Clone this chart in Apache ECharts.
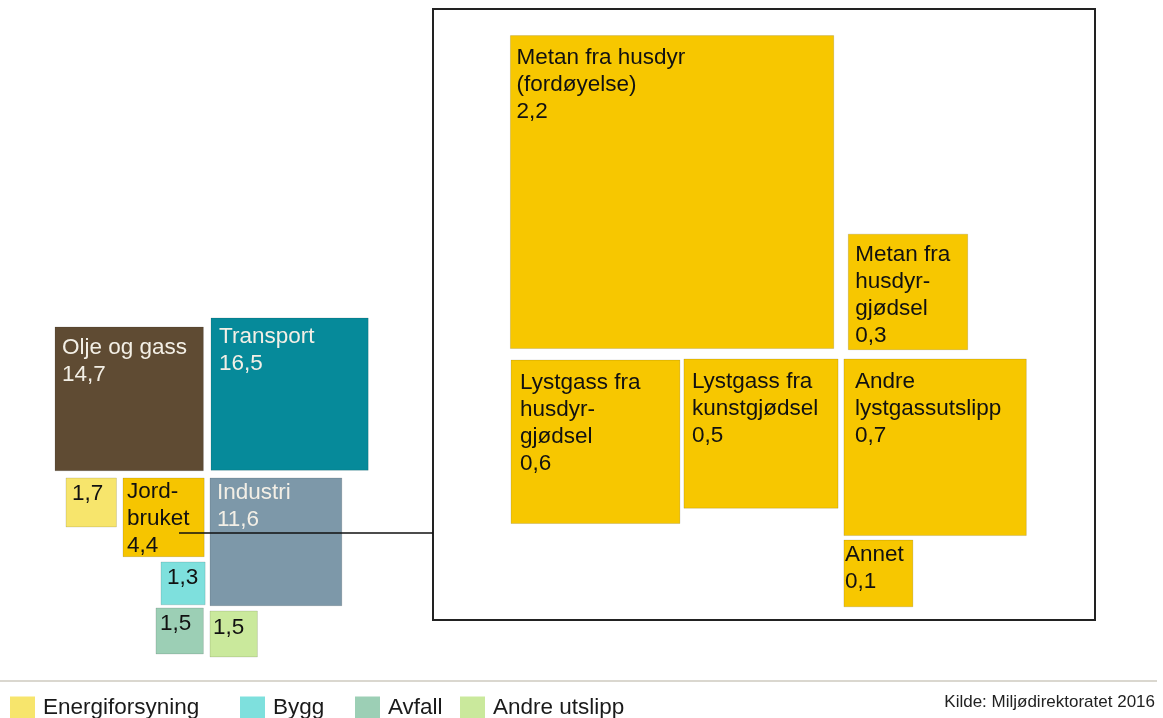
<!DOCTYPE html>
<html>
<head>
<meta charset="utf-8">
<title>Utslipp</title>
<script src="https://cdn.jsdelivr.net/npm/echarts@6.0.0/dist/echarts.min.js"></script>
<style>
  html, body { margin: 0; padding: 0; background: #fff; }
  #chart { width: 1163px; height: 718px; }
</style>
</head>
<body>
<div id="chart"></div>
<script>
// utslipp per sektor, mill. tonn CO2-ekvivalenter
const sectorNames = ['Olje og gass', 'Transport', 'Energiforsyning', 'Jordbruket', 'Industri', 'Bygg', 'Avfall', 'Andre utslipp'];
const sectorLabels = ['Olje og gass', 'Transport', '', 'Jord-\nbruket', 'Industri', '', '', ''];
const sectorValues = [14.7, 16.5, 1.7, 4.4, 11.6, 1.3, 1.5, 1.5];
const legendNames = ['Energiforsyning', 'Bygg', 'Avfall', 'Andre utslipp'];

// jordbruket fordelt på kilder
const farmLabels = ['Metan fra husdyr\n(fordøyelse)', 'Metan fra\nhusdyr-\ngjødsel', 'Lystgass fra\nhusdyr-\ngjødsel', 'Lystgass fra\nkunstgjødsel', 'Andre\nlystgassutslipp', 'Annet'];
const farmValues = [2.2, 0.3, 0.6, 0.5, 0.7, 0.1];

// plassering: øvre venstre hjørne, i kvadratrot-enheter
const sectorPos = [[0.388, 0.72], [4.419, 0.48], [0.672, 4.747], [2.145, 4.747], [4.393, 4.747], [3.127, 6.987], [2.997, 8.213], [4.393, 8.293]];
const farmPos = [[0.355, 0.126], [1.905, 1.067], [0.358, 1.664], [1.151, 1.659], [1.885, 1.659], [1.885, 2.517]];
const sectorPad = [[7, 7], [8, 5], [6, 2], [4, 0], [7, 1], [6, 2], [4, 2], [3, 3]];
const farmPad = [[6, 9], [7, 7], [9, 9], [8, 9], [11, 9], [1, 1]];

const sectorColors = ['#5f4b33', '#068a9a', '#f7e56c', '#f6c500', '#7d98a9', '#7ee0dd', '#9ccfb5', '#cae99c'];
const sectorTextColors = ['#f3efe6', '#f3efe6', '#111', '#111', '#f3efe6', '#111', '#111', '#111'];
const farmColor = '#f7c700';
const font = "'Liberation Sans', Arial, sans-serif";

function fmt(v) {
  return v.toFixed(1).replace('.', ',');
}

function squareItem(labels, values, colors, pads, textColors) {
  return function (params, api) {
    const i = api.value(3);
    const p = api.coord([api.value(0), api.value(1)]);
    const side = Math.sqrt(values[i]);
    const s = api.size([side, side]);
    const txt = (labels[i] ? labels[i] + '\n' : '') + fmt(values[i]);
    return {
      type: 'group',
      children: [
        {
          type: 'rect',
          shape: { x: p[0], y: p[1], width: s[0], height: s[1] },
          style: { fill: colors[i], stroke: 'rgba(0,0,0,0.12)', lineWidth: 1 }
        },
        {
          type: 'text',
          x: p[0] + pads[i][0],
          y: p[1] + pads[i][1],
          style: {
            text: txt, fill: textColors[i], fontSize: 22.5, lineHeight: 27,
            fontFamily: font, align: 'left', verticalAlign: 'top'
          }
        }
      ]
    };
  };
}

const sectorSeries = sectorNames.map((name, i) => ({
  name: name,
  type: 'custom',
  xAxisIndex: 0,
  yAxisIndex: 0,
  itemStyle: { color: sectorColors[i] },
  renderItem: squareItem(sectorLabels, sectorValues, sectorColors, sectorPad, sectorTextColors),
  data: [[sectorPos[i][0], sectorPos[i][1], sectorValues[i], i]]
}));

const farmSeries = {
  name: 'Jordbruk',
  type: 'custom',
  xAxisIndex: 1,
  yAxisIndex: 1,
  renderItem: squareItem(farmLabels, farmValues, farmValues.map(() => farmColor), farmPad, farmValues.map(() => '#111')),
  data: farmValues.map((v, i) => [farmPos[i][0], farmPos[i][1], v, i])
};

const legendLeft = [10, 240, 355, 460];

const option = {
  animation: false,
  title: {
    text: 'Kilde: Miljødirektoratet 2016',
    right: 8,
    top: 694,
    padding: 0,
    textStyle: { fontSize: 17, fontWeight: 'normal', color: '#222', fontFamily: font }
  },
  legend: legendNames.map((n, i) => ({
    data: [n],
    left: legendLeft[i],
    top: 696,
    padding: 0,
    icon: 'rect',
    itemWidth: 25,
    itemHeight: 22,
    selectedMode: false,
    textStyle: { fontSize: 22.5, color: '#1a1a1a', fontFamily: font, padding: [0, 0, 0, 3] }
  })),
  grid: [
    { left: 40, top: 300, width: 387, height: 375, show: false },
    { left: 433, top: 9, width: 662, height: 611, show: true, backgroundColor: '#fff', borderColor: '#222', borderWidth: 2 }
  ],
  xAxis: [
    { type: 'value', gridIndex: 0, min: 0, max: 10, show: false },
    { type: 'value', gridIndex: 1, min: 0, max: 662 / 218, show: false }
  ],
  yAxis: [
    { type: 'value', gridIndex: 0, min: 0, max: 10, inverse: true, show: false },
    { type: 'value', gridIndex: 1, min: 0, max: 611 / 211, inverse: true, show: false }
  ],
  graphic: [
    { type: 'line', z: 100, shape: { x1: 179, y1: 533, x2: 433, y2: 533 }, style: { stroke: '#111', lineWidth: 1.5 } },
    { type: 'line', z: 100, shape: { x1: 0, y1: 681, x2: 1157, y2: 681 }, style: { stroke: '#dad7cf', lineWidth: 2 } }
  ],
  series: sectorSeries.concat([farmSeries])
};

const chart = echarts.init(document.getElementById('chart'));
chart.setOption(option);
</script>
</body>
</html>
